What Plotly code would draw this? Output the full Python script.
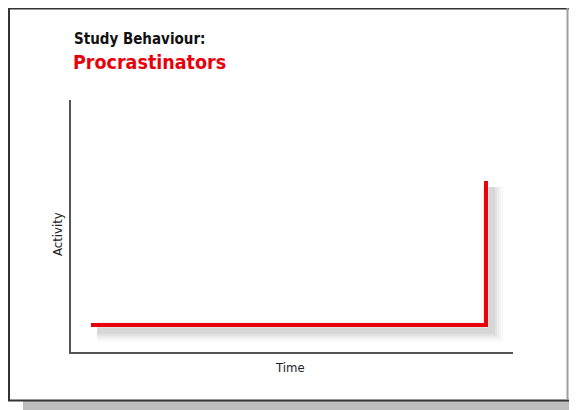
import plotly.graph_objects as go

# Data
time = [0, 10, 10]
activity = [0, 0, 10]
title_line1 = "Study Behaviour:"
title_line2 = "Procrastinators"
x_label = "Time"
y_label = "Activity"

# The page body has an 8px margin; figure sits at (8, 8) in the window
OX, OY = 8, 8
W, H = 577 - 2 * OX, 410 - OY
def px(x): return (x - OX) / W
def py(y): return 1 - (y - OY) / H

x_range = [-0.506, 10.684]
y_range = [-1.875, 15.625]

# main plot area in window px
L, R, T, B = 71, 513, 100, 352
dx, dy = 6, 6  # shadow offset

fig = go.Figure()

# soft shadow traces on shifted, hidden axes (xy)
for w, a in [(22, 0.035), (18, 0.045), (14, 0.06), (10, 0.08), (6, 0.10)]:
    fig.add_trace(go.Scatter(x=time, y=activity, mode="lines",
                             line=dict(color=f"rgba(120,120,120,{a})", width=w),
                             hoverinfo="skip", showlegend=False,
                             xaxis="x", yaxis="y"))

# main line on visible axes (x2y2)
fig.add_trace(go.Scatter(x=time, y=activity, mode="lines",
                         line=dict(color="#e8000b", width=4),
                         showlegend=False, xaxis="x2", yaxis="y2"))

font_fam = "DejaVu Sans Condensed, Liberation Sans Narrow, Arial Narrow, sans-serif"

fig.update_layout(
    width=W, height=H,
    margin=dict(l=0, r=0, t=0, b=0),
    paper_bgcolor="white",
    plot_bgcolor="rgba(0,0,0,0)",
    xaxis=dict(domain=[px(L + dx), px(R + dx)], range=x_range, visible=False,
               anchor="y", fixedrange=True),
    yaxis=dict(domain=[py(B + dy), py(T + dy)], range=y_range, visible=False,
               anchor="x", fixedrange=True),
    xaxis2=dict(domain=[px(L), px(R)], range=x_range, anchor="y2",
                showline=True, linecolor="#555555", linewidth=2,
                showgrid=False, zeroline=False, showticklabels=False, ticks=""),
    yaxis2=dict(domain=[py(B), py(T)], range=y_range, anchor="x2",
                showline=True, linecolor="#555555", linewidth=2,
                showgrid=False, zeroline=False, showticklabels=False, ticks=""),
    annotations=[
        dict(text=f"<b>{title_line1}</b>", x=px(72), y=py(28), xref="paper", yref="paper",
             xanchor="left", yanchor="top", showarrow=False,
             font=dict(family=font_fam, size=15, color="#111111")),
        dict(text=f"<b>{title_line2}</b>", x=px(71), y=py(49), xref="paper", yref="paper",
             xanchor="left", yanchor="top", showarrow=False,
             font=dict(family=font_fam, size=19.5, color="#e8000b")),
        dict(text=x_label, x=px(290), y=py(367), xref="paper", yref="paper",
             xanchor="center", yanchor="middle", showarrow=False,
             font=dict(family=font_fam, size=13, color="#222222")),
        dict(text=y_label, x=px(57), y=py(234), xref="paper", yref="paper",
             xanchor="center", yanchor="middle", showarrow=False, textangle=-90,
             font=dict(family=font_fam, size=13, color="#222222")),
    ],
    shapes=[
        # gray band at bottom
        dict(type="rect", xref="paper", yref="paper", x0=px(23), x1=1, y0=0, y1=py(401),
             fillcolor="#bdbdbd", line=dict(width=0), layer="below"),
        # frame
        dict(type="line", xref="paper", yref="paper", x0=0, x1=1, y0=py(8.5), y1=py(8.5),
             line=dict(color="#333333", width=2), layer="below"),
        dict(type="line", xref="paper", yref="paper", x0=px(9), x1=px(9), y0=py(8), y1=py(401),
             line=dict(color="#333333", width=2), layer="below"),
        dict(type="line", xref="paper", yref="paper", x0=0, x1=1, y0=py(400.5), y1=py(400.5),
             line=dict(color="#333333", width=2), layer="below"),
        dict(type="line", xref="paper", yref="paper", x0=px(567.5), x1=px(567.5), y0=py(8), y1=py(400),
             line=dict(color="#a0a0a0", width=2), layer="below"),
    ],
)

fig.write_html("out.html")
